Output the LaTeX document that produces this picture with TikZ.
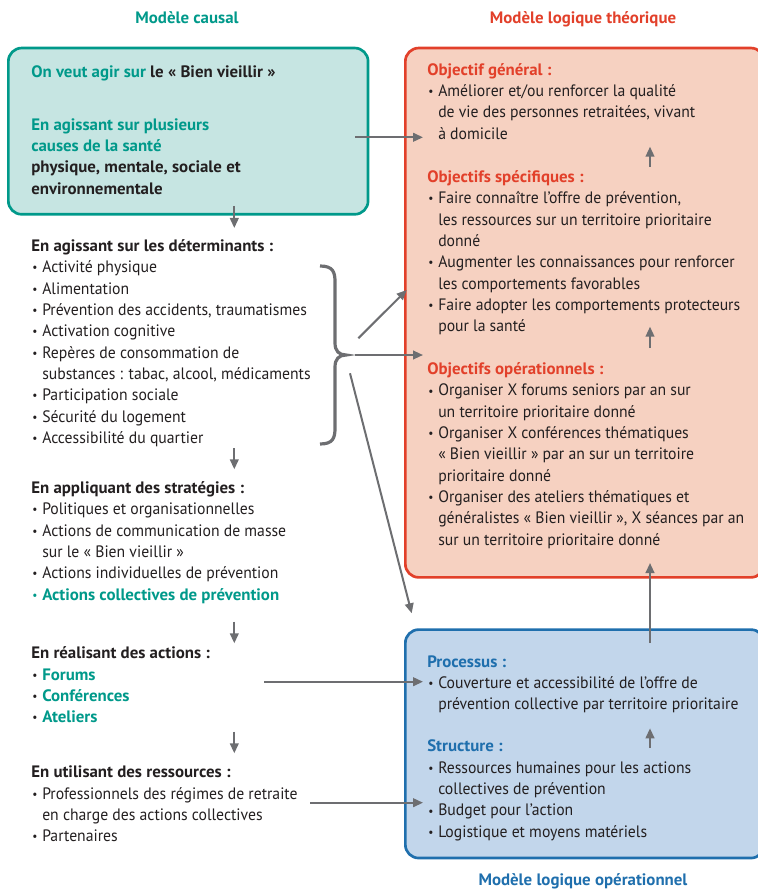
\documentclass[tikz,border=0pt]{standalone}
\usepackage{fontspec}
\setmainfont{PT Sans}[FakeStretch=0.95, BoldFeatures={FakeStretch=1.02}]
\usepackage{tikz}
\usepackage{xcolor}
\usetikzlibrary{arrows.meta}

\definecolor{causalteal}{HTML}{00998A}
\definecolor{causalfill}{HTML}{C6E5E2}
\definecolor{theored}{HTML}{E2402A}
\definecolor{theofill}{HTML}{F6D1C1}
\definecolor{opblue}{HTML}{1F6FAD}
\definecolor{opfill}{HTML}{C2D6EB}
\definecolor{arrowgray}{HTML}{6D6E71}
\definecolor{txtdark}{HTML}{231F20}

\newcommand{\bul}{\makebox[8.25pt][l]{\hspace*{0.8pt}\raisebox{0.6pt}{\fontsize{9}{9}\selectfont\textbullet}}}
\newcommand{\ind}{\hspace*{8.25pt}}
\newcommand{\teal}[1]{\textcolor{causalteal}{#1}}

\tikzset{
  % anchored at the baseline of the last line
  txtblock/.style={anchor=base west, inner sep=0pt, align=left, text=txtdark,
    font=\fontsize{12.4}{16}\selectfont},
  title/.style={anchor=base, inner sep=0pt, font=\fontsize{12.4}{16}\selectfont\bfseries},
  modelbox/.style={anchor=north west, rounded corners=10pt, line width=2pt, inner sep=0pt},
  arr/.style={draw=arrowgray, line width=1.5pt, -{Triangle[length=7.5pt,width=6.5pt]}}
}

\begin{document}
\begin{tikzpicture}[x=0.75pt, y=-0.75pt]
  \useasboundingbox (0,0) rectangle (757,891);

  % the three boxes
  \node[modelbox, draw=causalteal, fill=causalfill, minimum width=269.8pt, minimum height=124.7pt] (causal) at (7,46.7) {};
  \node[modelbox, draw=theored, fill=theofill, minimum width=269.2pt, minimum height=397pt] (theo) at (404,46.7) {};
  \node[modelbox, draw=opblue, fill=opfill, minimum width=269.2pt, minimum height=171.3pt] (oper) at (404,628.3) {};

  % titles
  \node[title, text=causalteal] (tcausal) at (187,23.3) {Modèle causal};
  \node[title, text=theored] (ttheo) at (583,23.3) {Modèle logique théorique};
  \node[title, text=opblue] (toper) at (583,885) {Modèle logique opérationnel};

  % modele causal
  \node[txtblock] (veut) at (31,78) {\textbf{\teal{On veut agir sur} le « Bien vieillir »}};
  \node[txtblock] (sante) at (31,194.3) {\textbf{\teal{En agissant sur plusieurs}}\\
    \textbf{\teal{causes de la santé}}\\
    \textbf{physique, mentale, sociale et}\\
    \textbf{environnementale}};
  \node[txtblock] (determ) at (31,443.4) {\textbf{En agissant sur les déterminants :}\\
    \bul Activité physique\\
    \bul Alimentation\\
    \bul Prévention des accidents, traumatismes\\
    \bul Activation cognitive\\
    \bul Repères de consommation de\\
    \ind substances : tabac, alcool, médicaments\\
    \bul Participation sociale\\
    \bul Sécurité du logement\\
    \bul Accessibilité du quartier};
  \node[txtblock] (strat) at (31,600) {\textbf{En appliquant des stratégies :}\\
    \bul Politiques et organisationnelles\\
    \bul Actions de communication de masse\\
    \ind sur le « Bien vieillir »\\
    \bul Actions individuelles de prévention\\
    \teal{\bul\textbf{Actions collectives de prévention}}};
  \node[txtblock] (actions) at (31,722.7) {\textbf{En réalisant des actions :}\\
    \bul\teal{\textbf{Forums}}\\
    \bul\teal{\textbf{Conférences}}\\
    \bul\teal{\textbf{Ateliers}}};
  \node[txtblock] (ressources) at (31,841.7) {\textbf{En utilisant des ressources :}\\
    \bul Professionnels des régimes de retraite\\
    \ind en charge des actions collectives\\
    \bul Partenaires};

  % modele logique theorique
  \node[txtblock] (general) at (427,139.3) {\textbf{\textcolor{theored}{Objectif général :}}\\
    \bul Améliorer et/ou renforcer la qualité\\
    \ind de vie des personnes retraitées, vivant\\
    \ind à domicile};
  \node[txtblock] (specif) at (427,331.7) {\textbf{\textcolor{theored}{Objectifs spécifiques :}}\\
    \bul Faire connaître l’offre de prévention,\\
    \ind les ressources sur un territoire prioritaire\\
    \ind donné\\
    \bul Augmenter les connaissances pour renforcer\\
    \ind les comportements favorables\\
    \bul Faire adopter les comportements protecteurs\\
    \ind pour la santé};
  \node[txtblock] (operat) at (427,545.3) {\textbf{\textcolor{theored}{Objectifs opérationnels :}}\\
    \bul Organiser X forums seniors par an sur\\
    \ind un territoire prioritaire donné\\
    \bul Organiser X conférences thématiques\\
    \ind « Bien vieillir » par an sur un territoire\\
    \ind prioritaire donné\\
    \bul Organiser des ateliers thématiques et\\
    \ind généralistes « Bien vieillir », X séances par an\\
    \ind sur un territoire prioritaire donné};

  % modele logique operationnel
  \node[txtblock] (processus) at (427,709.7) {\textbf{\textcolor{opblue}{Processus :}}\\
    \bul Couverture et accessibilité de l’offre de\\
    \ind prévention collective par territoire prioritaire};
  \node[txtblock] (structure) at (427,837.3) {\textbf{\textcolor{opblue}{Structure :}}\\
    \bul Ressources humaines pour les actions\\
    \ind collectives de prévention\\
    \bul Budget pour l’action\\
    \bul Logistique et moyens matériels};

  % brace
  \draw[arrowgray, line width=2.4pt] (320,266) .. controls (333,266) and (335,272) .. (335,282)
    -- (335,343) .. controls (335,351) and (339,355) .. (346,355)
    .. controls (339,355) and (335,359) .. (335,367)
    -- (335,428) .. controls (335,438) and (333,444) .. (320,444);
  \coordinate (bracetip) at (346,355);

  % arrow ends
  \coordinate (a1) at (355,137.3);   \coordinate (b1) at (423,137.3);
  \coordinate (a2) at (358.3,338.3); \coordinate (b2) at (406.7,290);
  \coordinate (a3) at (355,355);     \coordinate (b3) at (423,355);
  \coordinate (a4) at (350,373.3);   \coordinate (b4) at (411.7,613.3);
  \coordinate (a5) at (264,681.7);   \coordinate (b5) at (423,681.7);
  \coordinate (a6) at (310,802.7);   \coordinate (b6) at (423,802.7);

  \draw[arr] (a1) -- (b1);
  \draw[arr] (a2) -- (b2);
  \draw[arr] (a3) -- (b3);
  \draw[arr] (a4) -- (b4);
  \draw[arr] (a5) -- (b5);
  \draw[arr] (a6) -- (b6);

  % down arrows, causal column
  \foreach \ya/\yb in {206/228, 448/469.3, 621.7/643.3, 731.7/753.3}
    \draw[arr] (234.3,\ya) -- (234.3,\yb);

  % up arrows, logical models
  \foreach \ya/\yb in {166.7/146.7, 348/326.7, 643/563, 748/728.3}
    \draw[arr] (650,\ya) -- (650,\yb);
\end{tikzpicture}
\end{document}
